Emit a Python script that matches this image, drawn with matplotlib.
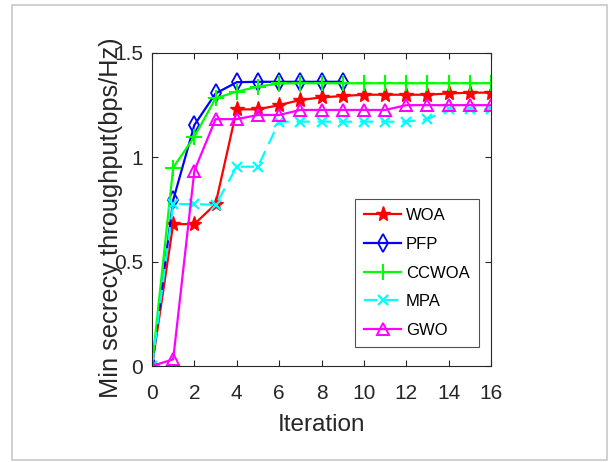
import matplotlib
matplotlib.use("Agg")
import matplotlib.pyplot as plt
from matplotlib.patches import Rectangle

iterations = list(range(17))
woa = [0, 0.68, 0.68, 0.776, 1.23, 1.23, 1.25, 1.275, 1.287, 1.294, 1.30, 1.30, 1.30, 1.30, 1.306, 1.31, 1.31]
pfp = [0, 0.795, 1.155, 1.306, 1.36, 1.362, 1.362, 1.362, 1.362, 1.362]
ccwoa = [0, 0.951, 1.099, 1.283, 1.315, 1.339, 1.354, 1.355, 1.355, 1.355, 1.355, 1.355, 1.355, 1.355, 1.355, 1.355, 1.355]
mpa = [0, 0.776, 0.776, 0.772, 0.955, 0.955, 1.171, 1.171, 1.171, 1.171, 1.171, 1.171, 1.171, 1.183, 1.23, 1.23, 1.23]
gwo = [0, 0.032, 0.936, 1.183, 1.183, 1.203, 1.203, 1.227, 1.227, 1.227, 1.227, 1.227, 1.25, 1.25, 1.25, 1.25, 1.25]

names = ["WOA", "PFP", "CCWOA", "MPA", "GWO"]
xticks = [0, 2, 4, 6, 8, 10, 12, 14, 16]
yticks = [0, 0.5, 1, 1.5]
yticklabels = ["0", "0.5", "1", "1.5"]

plt.rcParams["font.family"] = ["Liberation Sans", "DejaVu Sans"]

W, H = 611, 462
fig = plt.figure(figsize=(W / 100, H / 100), dpi=100)
fig.patches.append(Rectangle((12 / W, 1 - 460 / H), (607 - 12) / W, (460 - 5) / H,
                             transform=fig.transFigure, fill=False, edgecolor="#c8c8c8", linewidth=1.2))
ax = fig.add_axes([152 / W, 1 - 366 / H, (491 - 152) / W, (366 - 53) / H])

lw = 1.6
ax.plot(iterations[:len(woa)], woa, color="red", marker="*", markersize=11, linewidth=lw, label=names[0])
ax.plot(iterations[:len(pfp)], pfp, color="blue", marker="d", markersize=9, markerfacecolor="none",
        markeredgewidth=1.3, linewidth=lw, label=names[1])
ax.plot(iterations[:len(ccwoa)], ccwoa, color="#00ff00", marker="+", markersize=11, markeredgewidth=1.5,
        linewidth=lw, label=names[2])
ax.plot(iterations[:len(mpa)], mpa, color="cyan", marker="x", markersize=7, markeredgewidth=1.6,
        linewidth=lw, linestyle=(0, (6, 3.5)), label=names[3])
ax.plot(iterations[:len(gwo)], gwo, color="magenta", marker="^", markersize=8, markerfacecolor="none",
        markeredgewidth=1.4, linewidth=lw, label=names[4])

ax.set_xlim(0, 16)
ax.set_ylim(0, 1.5)
ax.set_xticks(xticks)
ax.set_yticks(yticks)
ax.set_yticklabels(yticklabels)
ax.tick_params(direction="in", length=4, width=0.8, top=True, right=True, labelsize=15, colors="#262626")
ax.tick_params(axis="x", pad=13)
ax.tick_params(axis="y", pad=6.5)
for s in ax.spines.values():
    s.set_color("#262626")
    s.set_linewidth(0.8)
ax.set_xlabel("Iteration", fontsize=17.5, color="#262626")
ax.xaxis.set_label_coords(0.5, -0.153)
ax.set_ylabel("Min secrecy throughput(bps/Hz)", fontsize=18.3, color="#262626")
ax.yaxis.set_label_coords(-0.087, 0.474)

leg = ax.legend(loc="lower right", bbox_to_anchor=((479 - 152) / (491 - 152), (366 - 347) / (366 - 53)),
                fontsize=12, frameon=True, fancybox=False, edgecolor="#262626", handlelength=2.2,
                borderaxespad=0, labelspacing=0.82, handletextpad=0.3, borderpad=0.55)
leg.get_frame().set_linewidth(0.8)

fig.savefig("out.png", dpi=100)
